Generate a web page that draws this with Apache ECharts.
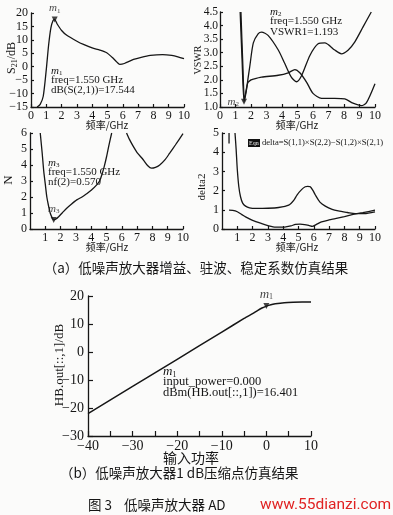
<!DOCTYPE html>
<html><head><meta charset="utf-8">
<script src="https://cdn.jsdelivr.net/npm/echarts@6/dist/echarts.min.js"></script>
<style>html,body{margin:0;padding:0;background:#fbfbfa;}#c{width:393px;height:515px;}</style>
</head><body><div id="c"></div>
<script>
// ---- Data ----
const s21Freq = [0.4,0.6,0.8,1.0,1.15,1.3,1.45,1.55,1.7,2.0,2.34,3.0,3.43,4.0,4.5,4.95,5.3,5.6,5.8,6.1,6.7,7.2,7.8,8.6,9.2,9.6,10];
const s21Val  = [-15,-14,-11,-1,8,14.5,17.3,17.544,16,13.5,11.7,9.5,8.3,7.0,6.2,5.2,3.5,1.8,0.9,1.2,2.7,3.5,4.2,4.5,4.2,3.7,3.0];

const vswrAFreq = [1.3,1.42,1.55,1.65,1.8,2.0,2.15,2.68,3.76,4.4,4.83,5.15,5.6,6.0,6.55,7.4,8.05,8.58,9.12,9.44,10];
const vswrAVal  = [4.5,2.8,1.193,1.5,1.9,2.0,2.03,2.1,2.17,2.26,2.38,2.26,1.9,1.5,1.32,1.32,1.3,1.14,1.05,1.15,1.86];
const vswrBFreq = [1.35,1.47,1.58,1.7,1.82,1.93,2.15,2.47,2.68,3.1,3.76,4.18,4.6,4.94,5.26,5.8,6.33,6.76,7.4,7.83,8.26,8.7,9.23,9.76];
const vswrBVal  = [4.5,2.6,1.25,1.6,2.1,2.53,3.36,3.7,3.76,3.64,3.1,2.6,2.1,1.93,2.15,2.9,3.33,3.36,3.1,2.96,3.09,3.4,3.95,4.5];

const nfAFreq = [0.67,0.8,0.9,1.0,1.1,1.2,1.32,1.45,1.55,1.7,1.87,2.1,2.4,2.7,3.06,3.4,3.7,4.0,4.36,4.55,4.7,4.85,5.0,5.15,5.34];
const nfAVal  = [6,4.7,3.6,2.8,2.0,1.5,1.0,0.7,0.57,0.62,0.77,1.0,1.3,1.55,1.82,2.0,2.2,2.42,2.76,3.0,3.4,3.9,4.5,5.2,6];
const nfBFreq = [6.31,6.5,6.75,7.0,7.4,7.7,7.94,8.2,8.48,8.8,9.13,9.5,10];
const nfBVal  = [6,5.6,5.16,4.78,4.33,3.95,3.8,3.85,4.0,4.3,4.74,5.25,5.96];

const kFreq = [0.85,0.92,1.0,1.1,1.21,1.35,1.54,1.8,2.2,3.0,3.7,4.36,4.7,4.9,5.2,5.44,5.6,5.77,5.95,6.1,6.4,6.75,7.2,7.6,8.2,8.7,9.3,10];
const kVal  = [5,4.2,3.1,2.2,1.68,1.35,1.19,1.1,1.07,1.08,1.12,1.24,1.5,1.77,2.05,2.2,2.22,2.2,2.0,1.77,1.4,1.19,1.02,0.94,0.86,0.8,0.8,0.89];
const kStubFreq = [0.46,0.46];
const kStubVal  = [5,4.45];
const deltaFreq = [0.46,0.7,1.0,1.3,1.54,2.0,2.6,3.0,3.5,4.1,4.5,4.8,5.1,5.4,5.7,5.9,6.2,6.5,7.0,7.4,8.0,8.5,9.2,10];
const deltaVal  = [0.98,0.97,0.9,0.75,0.63,0.45,0.28,0.18,0.1,0.1,0.16,0.24,0.25,0.23,0.18,0.14,0.25,0.37,0.47,0.54,0.65,0.75,0.85,0.98];

const pinVals  = [-40,-30,-20,-10,-5,-3,-2,-1,0,1,2,4,6,8,10];
const poutVals = [-22,-12.3,-2.6,7.1,12,13.8,14.8,15.7,16.401,16.9,17.2,17.6,17.8,17.9,17.9];

const m1Gain  = [1.55, 17.544];
const m2Vswr  = [1.55, 1.193];
const m3Nf    = [1.55, 0.570];
const m1Comp  = [0, 16.401];

// ---- Helpers ----
const zip = (a,b) => a.map((v,i)=>[v,b[i]]);
const SERIF = "'Liberation Serif','DejaVu Serif',serif";
const CJK = "'Noto Sans CJK SC',sans-serif";
const INK = '#161616';
const axLine = {show:true, onZero:false, lineStyle:{color:INK, width:1.3}};
const tick = {show:true, inside:true, length:3, lineStyle:{color:INK, width:1.2}};
const minus = v => String(v).replace('-','\u2212');

function xAx(g, min, max, interval, opts={}) {
  return Object.assign({type:'value', gridIndex:g, min, max, interval,
    axisLine:axLine, axisTick:tick, splitLine:{show:false},
    axisLabel:{color:INK, fontFamily:SERIF, fontSize:12, margin:3}}, opts);
}
function yAx(g, min, max, interval, opts={}) {
  return Object.assign({type:'value', gridIndex:g, min, max, interval,
    axisLine:axLine, axisTick:tick, splitLine:{show:false},
    axisLabel:{color:INK, fontFamily:SERIF, fontSize:12, margin:3}}, opts);
}
function line(g, data) {
  return {type:'line', xAxisIndex:g, yAxisIndex:g, data, showSymbol:false, smooth:0.25,
    lineStyle:{color:INK, width:1.3}, silent:true, animation:false, z:3};
}
function marker(g, pt, name, pos, big) {
  const f = big ? 13 : 11, fs = big ? 8 : 7;
  return {type:'scatter', xAxisIndex:g, yAxisIndex:g, data:[pt], symbol:'triangle', symbolRotate:180,
    symbolSize:6, itemStyle:{color:INK}, animation:false, z:4,
    label:{show:true, position:pos, distance:2, formatter:'{i|m}{s|'+name+'}',
      rich:{i:{fontFamily:SERIF, fontStyle:'italic', fontSize:f, color:INK},
            s:{fontFamily:SERIF, fontSize:fs, color:INK, verticalAlign:'bottom', padding:[5,0,0,0]}}}};
}
function txt(x, y, text, size, extra={}) {
  return Object.assign({type:'text', x, y, silent:true,
    style:Object.assign({text, fill:INK, font:size+'px '+SERIF, textAlign:'left', textVerticalAlign:'middle'}, extra.style||{})},
    extra.el||{});
}
function vtxt(x, y, text, size, font) {
  return {type:'text', x, y, rotation:Math.PI/2, silent:true,
    style:{text, fill:INK, font:size+'px '+(font||SERIF), textAlign:'center', textVerticalAlign:'middle'}};
}
function mLabel(x, y, sub, size) {
  const f = size || 11;
  return {type:'text', x, y, silent:true,
    style:{text:'{i|m}{s|'+sub+'}', textVerticalAlign:'middle',
      rich:{i:{fontFamily:SERIF, fontStyle:'italic', fontSize:f, fill:INK, color:INK},
            s:{fontFamily:SERIF, fontSize:Math.round(f*0.65), fill:INK, color:INK, padding:[5,0,0,0]}}}};
}

const chart = echarts.init(document.getElementById('c'), null, {renderer:'canvas'});
const lbl12 = extra => Object.assign({color:INK, fontFamily:SERIF, fontSize:12, margin:3}, extra||{});
const option = {
  backgroundColor:'#fbfbfa',
  animation:false,
  grid:[
    {left:31, top:13, width:153, height:94},
    {left:220, top:12, width:155, height:95},
    {left:30, top:133, width:153, height:96},
    {left:222, top:133, width:153, height:96},
    {left:88, top:296, width:223, height:140}
  ],
  xAxis:[
    xAx(0, 0, 10, 1),
    xAx(1, 0, 10, 1),
    xAx(2, 0, 10, 1, {axisLabel:lbl12({showMinLabel:false})}),
    xAx(3, 0, 10, 1, {axisLabel:lbl12({showMinLabel:false})}),
    xAx(4, -40, 10, 10, {axisTick:{show:true, inside:true, length:5, lineStyle:{color:INK,width:1.2}},
      minorTick:{show:true, splitNumber:2, length:5, lineStyle:{color:INK,width:1.2}},
      axisLabel:lbl12({fontSize:14, formatter:minus})})
  ],
  yAxis:[
    yAx(0, -15, 20, 5, {axisLabel:lbl12({formatter:minus})}),
    yAx(1, 1.0, 4.5, 0.5, {axisLabel:lbl12({margin:2, fontSize:11.5, formatter:v=>v.toFixed(1)})}),
    yAx(2, 0, 6, 1),
    yAx(3, 0, 5, 1),
    yAx(4, -30, 20, 10, {axisTick:{show:true, inside:true, length:5, lineStyle:{color:INK,width:1.2}},
      axisLabel:lbl12({fontSize:14, margin:4, formatter:minus})})
  ],
  series:[
    line(0, zip(s21Freq, s21Val)),
    marker(0, m1Gain, '1', 'top'),
    line(1, zip(vswrAFreq, vswrAVal)),
    line(1, zip(vswrBFreq, vswrBVal)),
    marker(1, m2Vswr, '2', 'left'),
    line(2, zip(nfAFreq, nfAVal)),
    line(2, zip(nfBFreq, nfBVal)),
    marker(2, m3Nf, '3', 'top'),
    line(3, zip(kFreq, kVal)),
    line(3, zip(kStubFreq, kStubVal)),
    line(3, zip(deltaFreq, deltaVal)),
    Object.assign(line(4, zip(pinVals, poutVals)), {smooth:0.2, lineStyle:{color:INK, width:1.5}}),
    marker(4, m1Comp, '1', 'top', true)
  ],
  graphic:[
    {type:'text', x:12, y:58, rotation:Math.PI/2, silent:true,
      style:{text:'S{s|21}/dB', fill:INK, font:'12px '+SERIF, textAlign:'center', textVerticalAlign:'middle',
        rich:{s:{fontFamily:SERIF, fontSize:8, fill:INK, color:INK, padding:[6,0,0,0]}}}},
    vtxt(198, 60, 'VSWR', 10),
    vtxt(9, 180, 'N', 13),
    vtxt(202, 187, 'delta2', 11),
    vtxt(60, 365, 'HB.out[::,1]/dB', 13),
    txt(107, 125, '频率/GHz', 10, {style:{font:'10px '+CJK, textAlign:'center'}}),
    txt(297, 125, '频率/GHz', 10, {style:{font:'10px '+CJK, textAlign:'center'}}),
    txt(107, 247, '频率/GHz', 10, {style:{font:'10px '+CJK, textAlign:'center'}}),
    txt(297, 247, '频率/GHz', 10, {style:{font:'10px '+CJK, textAlign:'center'}}),
    txt(191, 458, '输入功率', 14, {style:{font:'14px '+CJK, textAlign:'center'}}),
    mLabel(51, 71, '1'),
    txt(51, 80, 'freq=1.550 GHz', 11),
    txt(51, 90, 'dB(S(2,1))=17.544', 11),
    mLabel(270, 12, '2'),
    txt(270, 21, 'freq=1.550 GHz', 11),
    txt(270, 32, 'VSWR1=1.193', 11),
    mLabel(48, 163, '3'),
    txt(48, 172, 'freq=1.550 GHz', 11),
    txt(48, 182, 'nf(2)=0.570', 11),
    mLabel(163, 372, '1', 13),
    txt(163, 382, 'input_power=0.000', 12.5),
    txt(163, 393, 'dBm(HB.out[::,1])=16.401', 12.5),
    {type:'rect', shape:{x:248, y:139, width:12, height:8}, style:{fill:'#111'}, silent:true},
    txt(249, 143, 'Eqn', 6, {style:{fill:'#eee'}}),
    txt(262, 143, 'delta=S(1,1)×S(2,2)−S(1,2)×S(2,1)', 8.6),
    txt(196, 268, '（a）低噪声放大器增益、驻波、稳定系数仿真结果', 13.5, {style:{font:'13.5px '+CJK, textAlign:'center'}}),
    txt(60, 473, '（b）低噪声放大器1 dB压缩点仿真结果', 13.5, {style:{font:'13.5px '+CJK}}),
    txt(88, 505, '图 3    低噪声放大器 AD', 13.5, {style:{font:'13.5px '+CJK}}),
    txt(260, 505, 'www.55dianzi.com', 15.5, {style:{font:'15.5px Roboto, sans-serif', fill:'#e02222'}})
  ]
};
chart.setOption(option);
</script>
</body></html>
